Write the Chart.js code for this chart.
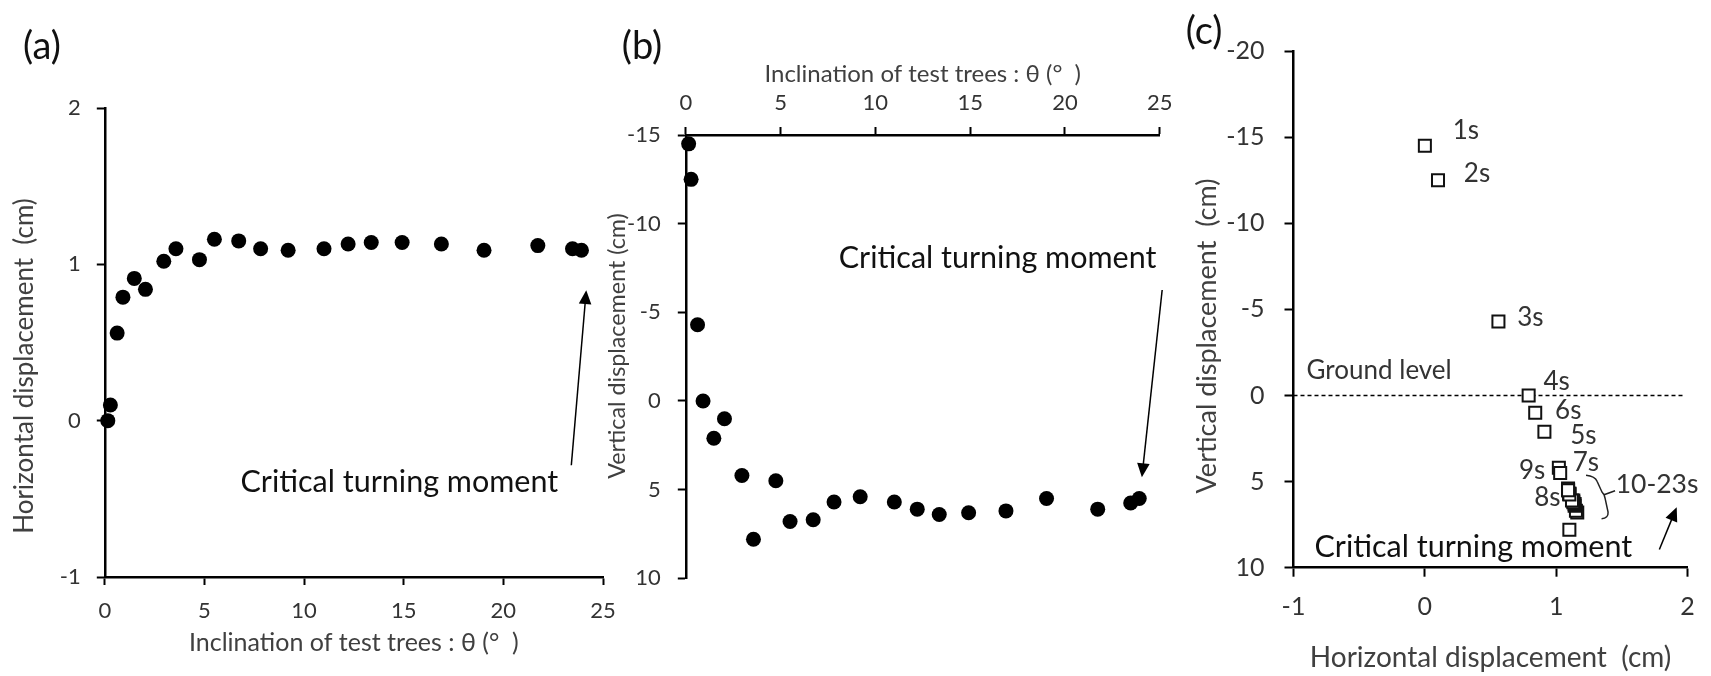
<!DOCTYPE html>
<html lang="en">
<head>
<meta charset="UTF-8">
<title>Displacement of test trees</title>
<script src="https://cdn.jsdelivr.net/npm/chart.js"></script>
<style>
  body { margin: 0; background: #fff; }
  #page { position: relative; width: 1711px; height: 676px; overflow: hidden; background: #fff; }
  .panel { position: absolute; top: 0; height: 676px; }
</style>
</head>
<body>
<div id="page">
  <div class="panel" style="left:0;width:660px"><canvas id="chartA"></canvas></div>
  <div class="panel" style="left:600px;width:600px"><canvas id="chartB"></canvas></div>
  <div class="panel" style="left:1170px;width:541px"><canvas id="chartC"></canvas></div>
</div>
<script>
// inclination of the tree (deg) for each second of the pulling test
const theta = [0.15, 0.28, 0.62, 0.91, 1.48, 2.04, 2.96, 3.57, 4.75, 5.5, 6.72, 7.82,
               9.2, 11.0, 12.21, 13.37, 14.92, 16.89, 19.03, 21.73, 23.47, 23.92];
// horizontal displacement (cm)
const horizDisp = [0.0, 0.10, 0.56, 0.79, 0.91, 0.84, 1.02, 1.10, 1.03, 1.16, 1.15, 1.10,
                   1.09, 1.10, 1.13, 1.14, 1.14, 1.13, 1.09, 1.12, 1.10, 1.09];
// vertical displacement (cm), negative = upward
const vertDisp = [-14.5, -12.5, -4.3, 0.0, 2.1, 1.0, 4.2, 7.8, 4.5, 6.8, 6.7, 5.7,
                  5.4, 5.7, 6.1, 6.4, 6.3, 6.2, 5.5, 6.1, 5.75, 5.5];

const thetaRange = [0, 25];
const horizRange = [-1, 2];
const vertRangeB = [-15, 10];
const vertRangeC = [-20, 10];
const groundLevel = 0;
const groundLine = [-1, 1.97];

const thetaTitle = 'Inclination of test trees : θ (°  )';
const noteText = 'Critical turning moment';

Chart.defaults.font.family = 'Lato';
Chart.defaults.color = '#333';

function axisLook(tick) {
  return {
    grid: { drawOnChartArea: false, drawTicks: true, tickLength: tick, tickWidth: 2, color: '#000' },
    border: { color: '#000', width: 2.5 }
  };
}

function label(ctx, text, x, y, size, color, align, base) {
  ctx.font = size + 'px Lato';
  ctx.fillStyle = color || '#111';
  ctx.textAlign = align || 'center';
  ctx.textBaseline = base || 'middle';
  ctx.fillText(text, x, y);
}

// rotated y axis title
function vLabel(ctx, text, x, y, size) {
  ctx.save();
  ctx.translate(x, y);
  ctx.rotate(-Math.PI / 2);
  label(ctx, text, 0, 0, size, '#404040');
  ctx.restore();
}

function arrow(ctx, x1, y1, x2, y2, head) {
  const a = Math.atan2(y2 - y1, x2 - x1);
  ctx.strokeStyle = '#000';
  ctx.fillStyle = '#000';
  ctx.lineWidth = 1.5;
  ctx.beginPath();
  ctx.moveTo(x1, y1);
  ctx.lineTo(x2 - head * 0.8 * Math.cos(a), y2 - head * 0.8 * Math.sin(a));
  ctx.stroke();
  const bx = x2 - head * Math.cos(a), by = y2 - head * Math.sin(a);
  const w = head * 0.45;
  ctx.beginPath();
  ctx.moveTo(x2, y2);
  ctx.lineTo(bx + w * Math.sin(a), by - w * Math.cos(a));
  ctx.lineTo(bx - w * Math.sin(a), by + w * Math.cos(a));
  ctx.closePath();
  ctx.fill();
}

function notes(draw) {
  return {
    id: 'notes',
    afterDraw(chart) {
      const ctx = chart.ctx;
      ctx.save();
      draw(ctx, chart.scales.x, chart.scales.y);
      ctx.restore();
    }
  };
}

const baseOptions = {
  responsive: true,
  maintainAspectRatio: false,
  animation: false,
  events: [],
  plugins: { legend: { display: false }, tooltip: { enabled: false } }
};

// (a) horizontal displacement vs inclination
new Chart(document.getElementById('chartA'), {
  type: 'scatter',
  data: {
    datasets: [{
      data: theta.map((t, i) => ({ x: t, y: horizDisp[i] })),
      backgroundColor: '#000', borderWidth: 0, pointRadius: 7.5, clip: false
    }]
  },
  options: {
    ...baseOptions,
    layout: { padding: { left: 0, top: 108, right: 57, bottom: 0 } },
    scales: {
      x: {
        type: 'linear', position: 'bottom', min: thetaRange[0], max: thetaRange[1],
        ticks: { stepSize: 5, padding: 13, font: { size: 22 } },
        title: { display: true, text: thetaTitle, color: '#404040', font: { size: 25 }, padding: { top: 0, bottom: 18 } },
        afterFit: s => { s.height = 99; },
        ...axisLook(8)
      },
      y: {
        min: horizRange[0], max: horizRange[1],
        ticks: { stepSize: 1, padding: 16, font: { size: 22 } },
        afterFit: s => { s.width = 104.8; },
        ...axisLook(8)
      }
    }
  },
  plugins: [notes((ctx, x, y) => {
    label(ctx, '(a)', 42, 47, 38, '#111');
    vLabel(ctx, 'Horizontal displacement  (cm)', 25, 366, 26);
    label(ctx, noteText, x.getPixelForValue(14.78), y.getPixelForValue(-0.455), 30.5, '#111', 'center', 'alphabetic');
    arrow(ctx, x.getPixelForValue(23.41), y.getPixelForValue(-0.285), x.getPixelForValue(24.16), y.getPixelForValue(0.835), 14);
  })]
});

// (b) vertical displacement vs inclination
new Chart(document.getElementById('chartB'), {
  type: 'scatter',
  data: {
    datasets: [{
      data: theta.map((t, i) => ({ x: t, y: vertDisp[i] })),
      backgroundColor: '#000', borderWidth: 0, pointRadius: 7.5, clip: false
    }]
  },
  options: {
    ...baseOptions,
    layout: { padding: { left: 0, top: 0, right: 40.3, bottom: 97.7 } },
    scales: {
      x: {
        type: 'linear', position: 'top', min: thetaRange[0], max: thetaRange[1],
        ticks: { stepSize: 5, padding: 11, font: { size: 22 } },
        title: { display: true, text: thetaTitle, color: '#404040', font: { size: 24 }, padding: { top: 60, bottom: 0 } },
        afterFit: s => { s.height = 135; },
        ...axisLook(8)
      },
      y: {
        reverse: true, min: vertRangeB[0], max: vertRangeB[1],
        ticks: { stepSize: 5, padding: 17, font: { size: 22 } },
        afterFit: s => { s.width = 85.8; },
        ...axisLook(8)
      }
    }
  },
  plugins: [notes((ctx, x, y) => {
    label(ctx, '(b)', 42, 47, 38, '#111');
    vLabel(ctx, 'Vertical displacement (cm)', 17, 346, 23.3);
    label(ctx, noteText, x.getPixelForValue(16.45), y.getPixelForValue(-7.48), 30.5, '#111', 'center', 'alphabetic');
    arrow(ctx, x.getPixelForValue(25.13), y.getPixelForValue(-6.26), x.getPixelForValue(24.06), y.getPixelForValue(4.3), 14);
  })]
});

// (c) trajectory: vertical vs horizontal displacement, labelled by second
const stepNotes = [
  { i: 0, dx: 41, dy: -15 }, { i: 1, dx: 39, dy: -7 }, { i: 2, dx: 32, dy: -4 },
  { i: 3, dx: 28, dy: -14 }, { i: 4, dx: 39, dy: 4 }, { i: 5, dx: 33, dy: -2 },
  { i: 6, dx: 27, dy: -5 }, { i: 7, dx: -22, dy: -32 }, { i: 8, dx: -28, dy: -2 }
];

new Chart(document.getElementById('chartC'), {
  type: 'scatter',
  data: {
    datasets: [{
      data: horizDisp.map((h, i) => ({ x: h, y: vertDisp[i] })),
      pointStyle: 'rect', pointRadius: 8.5, backgroundColor: '#fff',
      borderColor: '#111', borderWidth: 2, clip: false, order: 1
    }, {
      data: groundLine.map(h => ({ x: h, y: groundLevel })),
      showLine: true, borderColor: '#000', borderWidth: 1.5, borderDash: [4, 3],
      pointRadius: 0, order: 2
    }]
  },
  options: {
    ...baseOptions,
    layout: { padding: { left: 0, top: 51, right: 23.4, bottom: 0 } },
    scales: {
      x: {
        type: 'linear', position: 'bottom', min: horizRange[0], max: horizRange[1],
        ticks: { stepSize: 1, padding: 15, font: { size: 25 } },
        title: { display: true, text: 'Horizontal displacement  (cm)', color: '#404040', font: { size: 28 }, padding: { top: 0, bottom: 1 } },
        afterFit: s => { s.height = 108.3; },
        ...axisLook(9)
      },
      y: {
        reverse: true, min: vertRangeC[0], max: vertRangeC[1],
        ticks: { stepSize: 5, padding: 20, font: { size: 25 } },
        afterFit: s => { s.width = 123.5; },
        ...axisLook(9)
      }
    }
  },
  plugins: [notes((ctx, x, y) => {
    label(ctx, '(c)', 34, 32, 38, '#111');
    vLabel(ctx, 'Vertical displacement  (cm)', 37, 336, 27);
    label(ctx, 'Ground level', x.getPixelForValue(-0.348), y.getPixelForValue(-1.45), 26, '#333');
    stepNotes.forEach(n => {
      const px = x.getPixelForValue(horizDisp[n.i]) + n.dx;
      const py = y.getPixelForValue(vertDisp[n.i]) + n.dy;
      label(ctx, (n.i + 1) + 's', px, py, 26, '#333');
    });
    // bracket for 10-23 s
    const bx = x.getPixelForValue(horizDisp[21]), by = y.getPixelForValue(vertDisp[21]);
    ctx.strokeStyle = '#222';
    ctx.lineWidth = 1.5;
    ctx.beginPath();
    ctx.moveTo(bx + 18, by - 15);
    ctx.quadraticCurveTo(bx + 27, by - 14, bx + 29, by - 9);
    ctx.lineTo(bx + 34, by + 2);
    ctx.lineTo(bx + 36, by + 4.5);
    ctx.lineTo(bx + 37, by + 8);
    ctx.lineTo(bx + 40, by + 22);
    ctx.quadraticCurveTo(bx + 40.5, by + 28, bx + 33.5, by + 28.5);
    ctx.moveTo(bx + 36, by + 4.5);
    ctx.lineTo(bx + 47, by + 0.5);
    ctx.stroke();
    label(ctx, '10-23s', bx + 89, by - 6, 26.5, '#333');
    label(ctx, noteText, x.getPixelForValue(0.369), y.getPixelForValue(9.39), 30.5, '#111', 'center', 'alphabetic');
    arrow(ctx, x.getPixelForValue(1.785), y.getPixelForValue(8.94), x.getPixelForValue(1.917), y.getPixelForValue(6.49), 14);
  })]
});
</script>
</body>
</html>
